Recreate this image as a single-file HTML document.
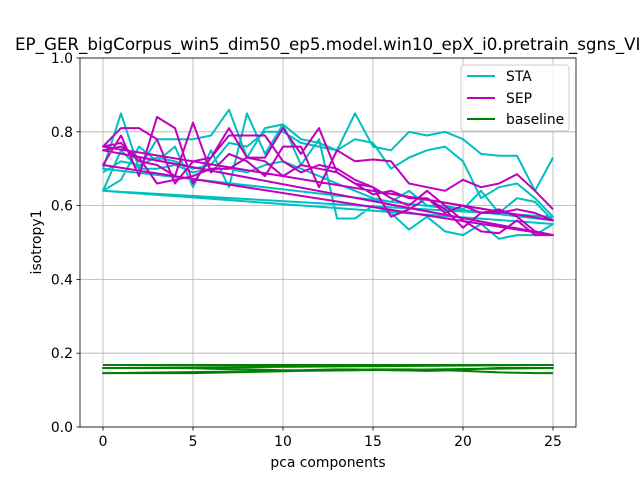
<!DOCTYPE html>
<html><head><meta charset="utf-8"><style>
body{margin:0;background:#fff;}
svg{display:block;font-family:"DejaVu Sans","Liberation Sans",sans-serif;}
</style></head><body>
<svg id="chart" width="640" height="480" viewBox="0 0 640 480">
<rect width="640" height="480" fill="#fff"/>
<g id="grid"></g>
<g id="series"></g>
<rect x="80" y="58" width="496" height="369" fill="none" stroke="#000" stroke-width="0.8"/>
<g id="ticks"></g>
<text x="15" y="50" font-size="16.7">EP_GER_bigCorpus_win5_dim50_ep5.model.win10_epX_i0.pretrain_sgns_VI</text>
<text x="328" y="467" font-size="13.9" text-anchor="middle">pca components</text>
<text transform="translate(41,242) rotate(-90)" font-size="13.9" text-anchor="middle">isotropy1</text>
<g>
<rect x="461" y="65" width="108" height="66" rx="3" fill="#fff" fill-opacity="0.8" stroke="#ccc"/>
<line x1="467" y1="76" x2="495" y2="76" stroke="#00bfbf" stroke-width="2"/>
<text x="506" y="81" font-size="13.9">STA</text>
<line x1="467" y1="98" x2="495" y2="98" stroke="#bf00bf" stroke-width="2"/>
<text x="506" y="103" font-size="13.9">SEP</text>
<line x1="467" y1="119" x2="495" y2="119" stroke="#008000" stroke-width="2"/>
<text x="506" y="124" font-size="13.9">baseline</text>
</g>
</svg>
<script>
const xTicks=[0,5,10,15,20,25];
const yTicks=[0.0,0.2,0.4,0.6,0.8,1.0];
const staRuns=[
[0.69,0.72,0.71,0.73,0.72,0.70,0.71,0.77,0.76,0.80,0.80,0.77,0.76,0.75,0.78,0.77,0.70,0.73,0.75,0.76,0.72,0.62,0.65,0.66,0.62,0.57],
[0.64,0.67,0.76,0.72,0.76,0.65,0.75,0.65,0.85,0.74,0.82,0.71,0.78,0.565,0.565,0.60,0.58,0.535,0.57,0.53,0.52,0.55,0.51,0.52,0.52,0.55],
[0.64,0.75,0.70,0.70,0.71,0.69,0.70,0.70,0.69,0.71,0.72,0.70,0.68,0.66,0.64,0.62,0.61,0.64,0.60,0.60,0.59,0.64,0.58,0.62,0.61,0.56],
[0.70,0.85,0.70,0.78,0.78,0.78,0.79,0.86,0.73,0.81,0.82,0.78,0.77,0.75,0.85,0.76,0.75,0.80,0.79,0.80,0.78,0.74,0.735,0.735,0.64,0.73]
];
const sepRuns=[
[0.76,0.81,0.81,0.78,0.66,0.72,0.73,0.81,0.73,0.73,0.81,0.74,0.81,0.69,0.66,0.65,0.62,0.60,0.64,0.60,0.56,0.53,0.525,0.56,0.52,0.52],
[0.71,0.79,0.68,0.84,0.81,0.66,0.73,0.79,0.79,0.79,0.72,0.69,0.71,0.70,0.67,0.65,0.57,0.59,0.62,0.59,0.54,0.58,0.59,0.57,0.53,0.52],
[0.75,0.76,0.73,0.66,0.67,0.68,0.70,0.70,0.73,0.72,0.68,0.71,0.70,0.69,0.66,0.63,0.64,0.62,0.62,0.58,0.60,0.58,0.58,0.59,0.58,0.56],
[0.76,0.77,0.72,0.71,0.68,0.825,0.69,0.74,0.72,0.68,0.76,0.76,0.65,0.75,0.72,0.725,0.72,0.66,0.65,0.64,0.67,0.65,0.66,0.685,0.64,0.59]
];
const baseRuns=[
[0.168,0.168,0.168,0.168,0.168,0.168,0.168,0.168,0.168,0.168,0.168,0.168,0.168,0.168,0.168,0.168,0.168,0.168,0.168,0.168,0.168,0.168,0.168,0.168,0.168,0.168],
[0.160,0.160,0.160,0.160,0.160,0.159,0.158,0.157,0.156,0.155,0.154,0.154,0.155,0.156,0.156,0.155,0.154,0.153,0.152,0.153,0.155,0.158,0.160,0.160,0.160,0.160],
[0.146,0.146,0.146,0.146,0.146,0.146,0.147,0.148,0.149,0.150,0.151,0.152,0.153,0.154,0.155,0.156,0.156,0.156,0.155,0.154,0.152,0.150,0.148,0.147,0.146,0.146]
];
const X=v=>103+v*18, Y=v=>427-v*369;
const NS="http://www.w3.org/2000/svg";
const grid=document.getElementById('grid'),ticks=document.getElementById('ticks'),ser=document.getElementById('series');
function mk(tag,attrs,parent){const e=document.createElementNS(NS,tag);for(const k in attrs)e.setAttribute(k,attrs[k]);parent.appendChild(e);return e;}
xTicks.forEach(t=>{
  const g=mk('line',{x1:X(t),x2:X(t),y1:58,y2:427,stroke:'#b0b0b0','stroke-width':0.8},grid);
  
  
  mk('line',{x1:X(t),x2:X(t),y1:427,y2:430.5,stroke:'#000','stroke-width':0.8},ticks);
  const l=mk('text',{x:X(t),y:446,'font-size':13.9,'text-anchor':'middle'},ticks);l.textContent=t;
  
  
});
yTicks.forEach(t=>{
  const g=mk('line',{x1:80,x2:576,y1:Y(t),y2:Y(t),stroke:'#b0b0b0','stroke-width':0.8},grid);
  
  
  mk('line',{x1:76.5,x2:80,y1:Y(t),y2:Y(t),stroke:'#000','stroke-width':0.8},ticks);
  const l=mk('text',{x:73,y:Y(t)+5,'font-size':13.9,'text-anchor':'end'},ticks);l.textContent=t.toFixed(1);
  
  
});
function draw(runs,color,name){
  const pts=[];runs.forEach(r=>r.forEach((v,i)=>pts.push(X(i).toFixed(1)+','+Y(v).toFixed(1))));
  const p=mk('polyline',{points:pts.join(' '),fill:'none',stroke:color,'stroke-width':2,'stroke-linejoin':'round'},ser);
  
  
}
draw(staRuns,'#00bfbf','sta-line');
draw(sepRuns,'#bf00bf','sep-line');
draw(baseRuns,'#008000','baseline-line');
</script>
</body></html>
